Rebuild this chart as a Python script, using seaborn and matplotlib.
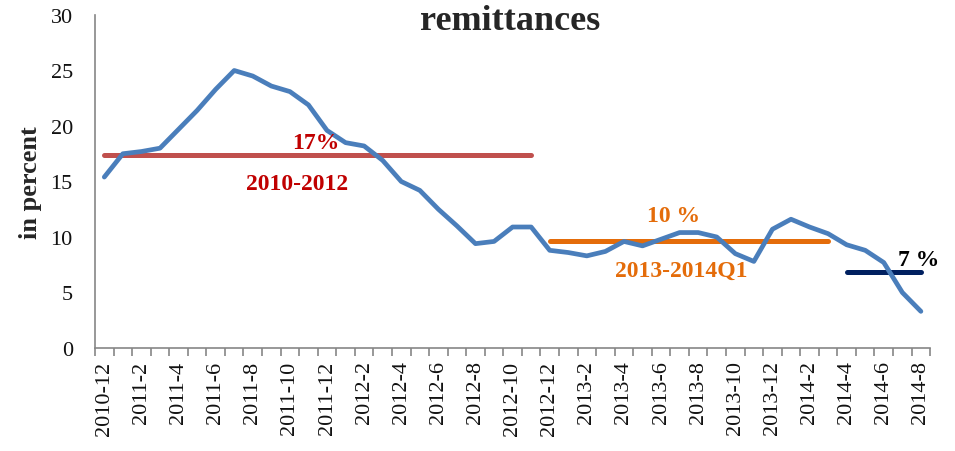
import seaborn as sns
import pandas as pd
import matplotlib.pyplot as plt
from matplotlib.ticker import FixedLocator

months = ['2010-12', '2011-1', '2011-2', '2011-3', '2011-4', '2011-5', '2011-6',
          '2011-7', '2011-8', '2011-9', '2011-10', '2011-11', '2011-12',
          '2012-1', '2012-2', '2012-3', '2012-4', '2012-5', '2012-6',
          '2012-7', '2012-8', '2012-9', '2012-10', '2012-11', '2012-12',
          '2013-1', '2013-2', '2013-3', '2013-4', '2013-5', '2013-6',
          '2013-7', '2013-8', '2013-9', '2013-10', '2013-11', '2013-12',
          '2014-1', '2014-2', '2014-3', '2014-4', '2014-5', '2014-6',
          '2014-7', '2014-8']
remittances = [15.4, 17.5, 17.7, 18.0, 19.7, 21.4, 23.3, 25.0, 24.5, 23.6, 23.1,
               21.9, 19.6, 18.5, 18.2, 16.9, 15.0, 14.2, 12.5, 11.0, 9.4, 9.6,
               10.9, 10.9, 8.8, 8.6, 8.3, 8.7, 9.6, 9.2, 9.8, 10.4, 10.4, 10.0,
               8.5, 7.8, 10.7, 11.6, 10.9, 10.3, 9.3, 8.8, 7.7, 5.0, 3.3]

# period averages
avg_periods = ['2010-2012', '2013-2014Q1', '2014Q2-Q3']
avg_start = ['2010-12', '2012-12', '2014-4']
avg_end = ['2012-11', '2014-3', '2014-8']
avg_values = [17.4, 9.6, 6.85]
avg_labels = ['17%', '10 %', '7 %']

colors = ['#C0504D', '#E46C0A', '#002060']
text_colors = ['#C00000', '#E46C0A', '#000000']

df = pd.DataFrame({'month': months, 'value': remittances})
df['pos'] = range(len(df))

sns.set_style('white')
plt.rcParams['font.family'] = ['Liberation Serif', 'DejaVu Serif']

fig, ax = plt.subplots(figsize=(9.55, 4.52), dpi=100)
fig.subplots_adjust(left=0.0995, right=0.974, top=0.9646, bottom=0.2279)

sns.lineplot(data=df, x='pos', y='value', color='#4A7EBB', linewidth=3.4,
             ax=ax, legend=False)

pos = dict(zip(months, df['pos']))
for s, e, v, c in zip(avg_start, avg_end, avg_values, colors):
    ax.plot([pos[s], pos[e]], [v, v], color=c, linewidth=3.6,
            solid_capstyle='round', zorder=1)

# annotations
fs = 17
ax.text(11.4, 18.0, avg_labels[0], color=text_colors[0], fontsize=fs,
        fontweight='bold', ha='center', va='baseline')
ax.text(10.4, 14.3, avg_periods[0], color=text_colors[0], fontsize=fs,
        fontweight='bold', ha='center', va='baseline')
ax.text(30.7, 11.4, avg_labels[1], color=text_colors[1], fontsize=fs,
        fontweight='bold', ha='center', va='baseline')
ax.text(31.1, 6.5, avg_periods[1], color=text_colors[1], fontsize=fs,
        fontweight='bold', ha='center', va='baseline')
ax.text(43.9, 7.5, avg_labels[2], color=text_colors[2], fontsize=fs,
        fontweight='bold', ha='center', va='baseline')

ax.set_xlim(-0.5, len(months) - 0.5)
ax.set_ylim(0, 30)
ax.set_yticks(range(0, 31, 5))
ax.set_xticks(df['pos'][::2])
ax.set_xticklabels(df['month'][::2], rotation=90)
ax.xaxis.set_minor_locator(FixedLocator([p - 0.5 for p in range(len(months) + 1)]))
ax.tick_params(axis='x', which='major', length=0, pad=9, labelsize=16,
               labelcolor='#111111')
ax.tick_params(axis='x', which='minor', length=6, color='#868686', width=1.2,
               bottom=True)
ax.tick_params(axis='y', length=7, color='#868686', width=1.2, labelsize=16,
               pad=9, labelcolor='#111111')

for side in ['top', 'right']:
    ax.spines[side].set_visible(False)
for side in ['left', 'bottom']:
    ax.spines[side].set_color('#868686')
    ax.spines[side].set_linewidth(1.2)

ax.set_xlabel('')
ax.set_ylabel('in percent', fontsize=19, fontweight='bold', labelpad=6)
fig.text(510 / 955, 1 - 30 / 452, 'remittances', fontsize=26, fontweight='bold',
         ha='center', va='baseline')

plt.savefig('out.png', dpi=100)
